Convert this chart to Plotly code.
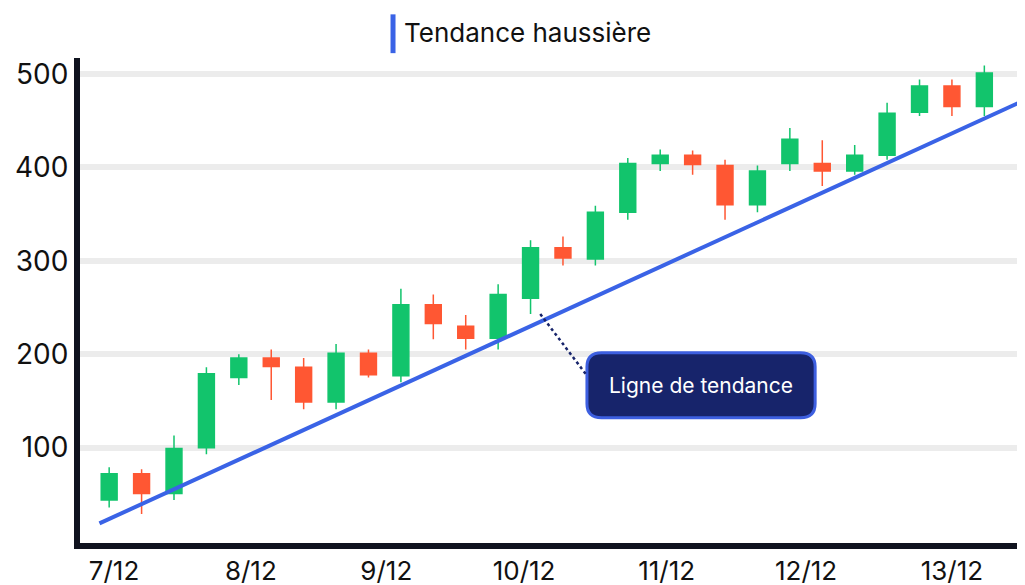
import plotly.graph_objects as go

x = list(range(28))
opens  = [44,72,51,100,175,196,186,149,201,177,253,230,217,260,314,302,352,404,413,402,360,404,404,396,413,459,487,465]
closes = [72,51,99,179,196,187,149,201,178,253,233,217,264,314,303,352,404,413,403,360,396,430,396,413,458,487,465,501]
highs  = [79,77,113,186,200,205,196,211,205,270,264,242,275,322,326,359,410,419,418,408,402,442,429,424,469,494,494,509]
lows   = [36,29,44,93,167,151,141,141,175,170,216,205,205,243,295,295,344,396,392,344,352,396,380,392,408,455,455,455]
tick_labels = ["7/12","8/12","9/12","10/12","11/12","12/12","13/12"]
tick_pos = [0.15,4.37,8.55,12.8,17.2,21.5,26.0]
trend_x = [-0.3, 28.06]
trend_y = [19, 469]

fig = go.Figure()
fig.add_trace(go.Candlestick(x=x, open=opens, high=highs, low=lows, close=closes,
    increasing=dict(line=dict(color="#12c46c", width=1.5), fillcolor="#12c46c"),
    decreasing=dict(line=dict(color="#ff5733", width=1.5), fillcolor="#ff5733"),
    whiskerwidth=0, showlegend=False, hoverinfo="skip"))
fig.add_trace(go.Scatter(x=trend_x, y=trend_y, mode="lines",
    line=dict(color="#3a63e6", width=4), showlegend=False, hoverinfo="skip"))

x0, x1, y0, y1 = 14.74, 21.78, 132, 201.6
rx, ry = 0.45, 15
path = (f"M {x0+rx},{y0} L {x1-rx},{y0} Q {x1},{y0} {x1},{y0+ry} L {x1},{y1-ry} "
        f"Q {x1},{y1} {x1-rx},{y1} L {x0+rx},{y1} Q {x0},{y1} {x0},{y1-ry} "
        f"L {x0},{y0+ry} Q {x0},{y0} {x0+rx},{y0} Z")
fig.add_shape(type="path", path=path, fillcolor="#17246b", line=dict(color="#3d5fe0", width=3))
fig.add_shape(type="line", x0=13.3, y0=243, x1=14.7, y1=179, line=dict(color="#17246b", width=2.5, dash="dot"))
fig.add_annotation(x=(x0+x1)/2, y=(y0+y1)/2, text="Ligne de tendance", showarrow=False,
    font=dict(color="white", size=21, family="Inter"))
fig.add_shape(type="line", xref="paper", yref="paper", x0=0.333, x1=0.333, y0=1.01, y1=1.09,
    line=dict(color="#3a63e6", width=5))
fig.add_annotation(xref="paper", yref="paper", x=0.343, y=1.052, xanchor="left", yanchor="middle",
    text="Tendance haussière", showarrow=False, font=dict(size=26, color="#111", family="Inter"))

fig.update_layout(width=1025, height=585, margin=dict(l=72, r=13, t=50, b=50, autoexpand=False),
    plot_bgcolor="white", paper_bgcolor="white", font=dict(family="Inter", color="#111"))
fig.update_xaxes(range=[-0.9, 28.1], tickvals=tick_pos, ticktext=tick_labels, showgrid=False, automargin=False,
    showline=True, linecolor="#10131f", linewidth=6, tickfont=dict(size=26), rangeslider_visible=False, zeroline=False)
fig.update_yaxes(range=[-2, 517], tickvals=[100,200,300,400,500], showgrid=True, gridcolor="#ececec", gridwidth=6,
    automargin=False, showline=True, linecolor="#10131f", linewidth=6, tickfont=dict(size=28), zeroline=False)
fig.write_html("out.html")
